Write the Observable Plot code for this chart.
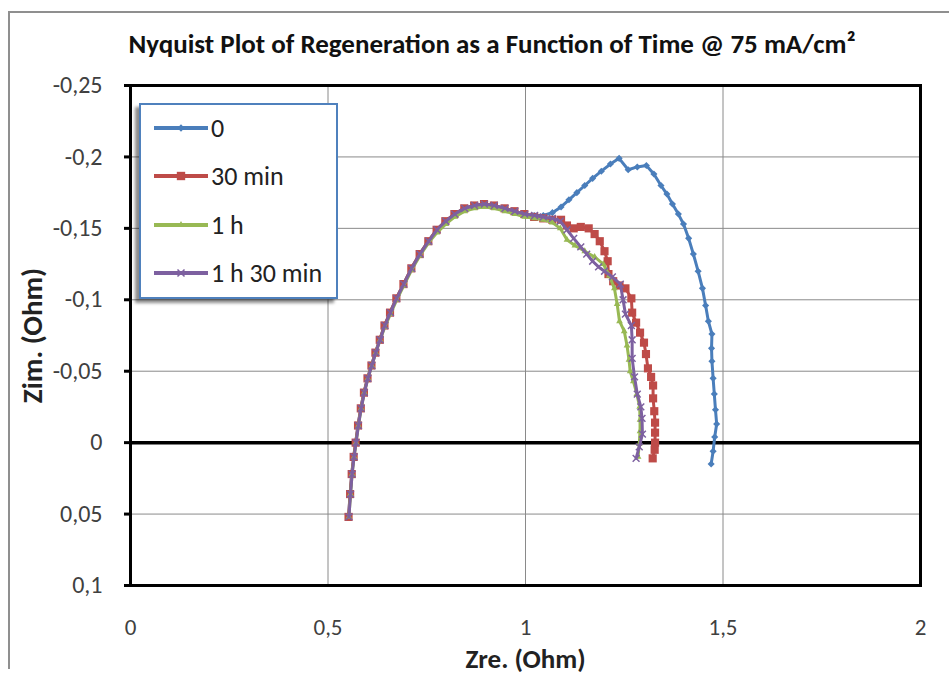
<!DOCTYPE html>
<html>
<head>
<meta charset="utf-8">
<script src="https://cdn.jsdelivr.net/npm/d3@7"></script>
<script src="https://cdn.jsdelivr.net/npm/@observablehq/plot@0.6"></script>
<style>
  html, body { margin: 0; padding: 0; background: #fff; }
  #wrap { position: relative; width: 949px; height: 677px; overflow: hidden; font-family: Carlito, Lato, sans-serif; }
  #border { position: absolute; left: 8px; top: 11px; width: 960px; height: 656px; border-left: 2px solid #8f8f8f; border-top: 2px solid #8f8f8f; }
  #title { position: absolute; left: 0; top: 27px; width: 984px; text-align: center; font-size: 27px; font-weight: 600; color: #111; white-space: nowrap; }
  #chart { position: absolute; left: 0; top: 0; }
  #legend { position: absolute; left: 139px; top: 103px; width: 195px; height: 192px; background: #fff; border: 2px solid #4F81BD; box-shadow: -4px 4px 3px rgba(0,0,0,0.45); }
  .row { position: absolute; left: 12px; height: 30px; display: flex; align-items: center; font-size: 26px; color: #222; white-space: nowrap; }
  .row svg { margin-right: 2px; }
</style>
</head>
<body>
<div id="wrap">
  <div id="border"></div>
  <div id="chart"></div>
  <div id="title">Nyquist Plot of Regeneration as a Function of Time @ 75 mA/cm²</div>
  <div id="legend"></div>
</div>
<script>
// Series names (legend)
const seriesNames = ["0", "30 min", "1 h", "1 h 30 min"];
const seriesColors = ["#4A7EBB", "#BE4B48", "#98B954", "#7D60A0"];
const seriesSymbols = ["diamond2", "square", "triangle2", "times"];

// [Zre, Zim] pairs (Ohm)
const s0 = [[0.552,0.052],[0.556,0.036],[0.560,0.022],[0.565,0.010],[0.570,0.000],[0.576,-0.012],[0.583,-0.024],[0.591,-0.035],[0.600,-0.045],[0.610,-0.054],[0.620,-0.063],[0.631,-0.072],[0.643,-0.082],[0.657,-0.091],[0.673,-0.101],[0.691,-0.111],[0.711,-0.122],[0.732,-0.132],[0.754,-0.141],[0.775,-0.149],[0.797,-0.155],[0.820,-0.160],[0.845,-0.164],[0.870,-0.166],[0.895,-0.167],[0.920,-0.166],[0.947,-0.164],[0.972,-0.162],[0.997,-0.160],[1.022,-0.159],[1.045,-0.159],[1.068,-0.161],[1.090,-0.165],[1.110,-0.170],[1.130,-0.175],[1.150,-0.180],[1.170,-0.185],[1.192,-0.190],[1.215,-0.195],[1.237,-0.199],[1.260,-0.191],[1.283,-0.193],[1.306,-0.194],[1.325,-0.188],[1.343,-0.180],[1.358,-0.174],[1.372,-0.167],[1.387,-0.160],[1.400,-0.153],[1.413,-0.143],[1.425,-0.132],[1.437,-0.120],[1.448,-0.108],[1.456,-0.096],[1.463,-0.085],[1.472,-0.076],[1.471,-0.066],[1.472,-0.057],[1.475,-0.045],[1.478,-0.034],[1.481,-0.023],[1.484,-0.013],[1.479,-0.004],[1.475,0.006],[1.470,0.015]];

const s30 = [[0.552,0.052],[0.556,0.036],[0.560,0.022],[0.565,0.010],[0.570,0.000],[0.576,-0.012],[0.583,-0.024],[0.591,-0.035],[0.600,-0.045],[0.610,-0.054],[0.620,-0.063],[0.631,-0.072],[0.643,-0.082],[0.657,-0.091],[0.673,-0.101],[0.691,-0.111],[0.711,-0.122],[0.732,-0.132],[0.754,-0.141],[0.775,-0.149],[0.797,-0.155],[0.820,-0.160],[0.845,-0.164],[0.870,-0.166],[0.895,-0.167],[0.920,-0.166],[0.947,-0.164],[0.972,-0.162],[0.997,-0.160],[1.022,-0.158],[1.045,-0.157],[1.068,-0.156],[1.090,-0.156],[1.105,-0.152],[1.122,-0.150],[1.140,-0.151],[1.160,-0.150],[1.175,-0.146],[1.188,-0.141],[1.200,-0.134],[1.208,-0.127],[1.210,-0.118],[1.222,-0.113],[1.238,-0.110],[1.253,-0.108],[1.268,-0.101],[1.270,-0.091],[1.280,-0.084],[1.290,-0.077],[1.300,-0.070],[1.305,-0.062],[1.310,-0.052],[1.318,-0.046],[1.323,-0.040],[1.323,-0.031],[1.326,-0.022],[1.328,-0.014],[1.328,-0.007],[1.328,0.000],[1.327,0.005],[1.322,0.011]];

const s1h = [[0.553,0.052],[0.557,0.036],[0.561,0.022],[0.566,0.010],[0.571,0.000],[0.577,-0.012],[0.584,-0.024],[0.592,-0.035],[0.601,-0.045],[0.611,-0.054],[0.621,-0.063],[0.632,-0.072],[0.644,-0.081],[0.658,-0.090],[0.674,-0.100],[0.692,-0.110],[0.712,-0.121],[0.733,-0.131],[0.755,-0.140],[0.776,-0.147],[0.798,-0.153],[0.821,-0.158],[0.846,-0.162],[0.871,-0.164],[0.896,-0.165],[0.921,-0.164],[0.948,-0.162],[0.973,-0.160],[0.998,-0.158],[1.023,-0.157],[1.045,-0.156],[1.068,-0.154],[1.088,-0.150],[1.105,-0.142],[1.125,-0.138],[1.150,-0.134],[1.175,-0.130],[1.197,-0.125],[1.212,-0.117],[1.225,-0.108],[1.232,-0.097],[1.238,-0.085],[1.250,-0.078],[1.257,-0.068],[1.262,-0.058],[1.265,-0.050],[1.273,-0.043],[1.282,-0.034],[1.289,-0.025],[1.290,-0.016],[1.290,-0.008],[1.288,0.001],[1.285,0.010]];

const s90 = [[0.553,0.052],[0.557,0.036],[0.561,0.022],[0.566,0.010],[0.571,0.000],[0.577,-0.012],[0.584,-0.024],[0.592,-0.035],[0.601,-0.045],[0.611,-0.054],[0.621,-0.063],[0.632,-0.072],[0.644,-0.082],[0.658,-0.091],[0.674,-0.101],[0.692,-0.111],[0.712,-0.122],[0.733,-0.132],[0.755,-0.141],[0.776,-0.149],[0.798,-0.155],[0.821,-0.160],[0.846,-0.164],[0.871,-0.166],[0.896,-0.167],[0.921,-0.166],[0.948,-0.164],[0.973,-0.162],[0.998,-0.160],[1.023,-0.159],[1.045,-0.158],[1.068,-0.157],[1.088,-0.155],[1.105,-0.149],[1.122,-0.143],[1.140,-0.137],[1.155,-0.132],[1.170,-0.127],[1.185,-0.123],[1.200,-0.120],[1.220,-0.116],[1.240,-0.111],[1.247,-0.100],[1.253,-0.090],[1.268,-0.082],[1.270,-0.072],[1.270,-0.059],[1.276,-0.046],[1.283,-0.034],[1.292,-0.025],[1.295,-0.017],[1.296,-0.006],[1.288,0.003],[1.280,0.011]];

const xTicks = [0, 0.5, 1, 1.5, 2];
const yTicks = [-0.25, -0.2, -0.15, -0.1, -0.05, 0, 0.05, 0.1];
const xLabel = "Zre. (Ohm)";
const yLabel = "Zim. (Ohm)";

const allSeries = [s0, s30, s1h, s90];
const rows = allSeries.flatMap((s, k) => s.map(([x, y]) => ({series: seriesNames[k], x, y})));

const fmt = d => String(+d.toFixed(2)).replace(".", ",");
const FONT = "Carlito, Lato, sans-serif";

const marks = [
  Plot.gridX(xTicks, {stroke: "#8a8a8a", strokeOpacity: 1, strokeWidth: 1}),
  Plot.gridY(yTicks, {stroke: "#8a8a8a", strokeOpacity: 1, strokeWidth: 1}),
  Plot.ruleY([0], {stroke: "black", strokeWidth: 3.5}),
  Plot.frame({stroke: "black", strokeWidth: 3}),
  Plot.axisY({ticks: yTicks, tickSize: 6, text: null, stroke: "black", strokeWidth: 3, label: null}),
  // tick labels as text marks positioned by the scales
  Plot.text(yTicks, {y: d => d, frameAnchor: "left", dx: -28, textAnchor: "end", lineAnchor: "middle", text: fmt, fontSize: 24, fill: "#404040"}),
  Plot.text(xTicks, {x: d => d, frameAnchor: "bottom", dy: 42, textAnchor: "middle", lineAnchor: "middle", text: fmt, fontSize: 23, fill: "#404040"}),
  Plot.text([xLabel], {frameAnchor: "bottom", dy: 74, text: d => d, fontSize: 27, fontWeight: "bold", fill: "#222", textAnchor: "middle", lineAnchor: "middle"}),
  Plot.text([yLabel], {frameAnchor: "left", dx: -98, rotate: -90, text: d => d, fontSize: 29, fontWeight: "bold", fill: "#222", textAnchor: "middle", lineAnchor: "middle"})
];
seriesNames.forEach((name, k) => {
  const sub = rows.filter(r => r.series === name);
  marks.push(Plot.line(sub, {x: "x", y: "y", stroke: seriesColors[k], strokeWidth: 3}));
  marks.push(Plot.dot(sub, {x: "x", y: "y", symbol: seriesSymbols[k], r: k === 1 ? 4.6 : 3.2, fill: seriesColors[k], stroke: seriesColors[k], strokeWidth: k === 3 ? 1.5 : 0}));
});

const chart = Plot.plot({
  width: 949,
  height: 677,
  marginTop: 85,
  marginBottom: 92,
  marginLeft: 130,
  marginRight: 29,
  style: {fontFamily: FONT, background: "transparent"},
  x: {domain: [0, 2], axis: null},
  y: {domain: [-0.25, 0.1], reverse: true},
  marks
});
document.getElementById("chart").appendChild(chart);

// Legend
const legend = document.getElementById("legend");
const rowTops = [8, 56, 105, 153];
seriesNames.forEach((name, k) => {
  const row = document.createElement("div");
  row.className = "row";
  row.style.top = rowTops[k] + "px";
  const sw = d3.create("svg").attr("width", 56).attr("height", 14);
  sw.append("line").attr("x1", 1).attr("x2", 55).attr("y1", 7).attr("y2", 7).attr("stroke", seriesColors[k]).attr("stroke-width", 4);
  const sym = d3.symbol().type({
    diamond2: d3.symbolDiamond2, square: d3.symbolSquare, triangle2: d3.symbolTriangle2, times: d3.symbolTimes
  }[seriesSymbols[k]]).size(k === 1 ? 70 : 34);
  sw.append("path").attr("d", sym()).attr("transform", "translate(28,7)").attr("fill", seriesColors[k]).attr("stroke", seriesColors[k]).attr("stroke-width", k === 3 ? 1.5 : 0);
  row.appendChild(sw.node());
  const t = document.createElement("span");
  t.textContent = name;
  row.appendChild(t);
  legend.appendChild(row);
});
</script>
</body>
</html>
